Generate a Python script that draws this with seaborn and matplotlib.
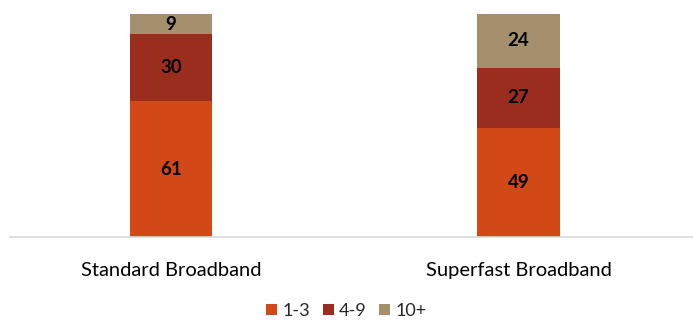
"""Stacked share of plans by band for standard vs superfast broadband."""

import matplotlib

matplotlib.use("Agg")
import matplotlib.pyplot as plt
import numpy as np
import pandas as pd
import seaborn as sns

CATEGORIES = ["Standard Broadband", "Superfast Broadband"]
SERIES = ["1-3", "4-9", "10+"]
VALUES_1_3 = [61, 49]
VALUES_4_9 = [30, 27]
VALUES_10_PLUS = [9, 24]
COLORS = ["#D34817", "#9B2D1F", "#A5906E"]


def main() -> None:
    sns.set_style("white")
    plt.rcParams["font.family"] = ["Lato", "DejaVu Sans"]

    table = pd.DataFrame(
        {"category": CATEGORIES, "1-3": VALUES_1_3, "4-9": VALUES_4_9, "10+": VALUES_10_PLUS}
    )

    fig = plt.figure(figsize=(6.93, 3.2), dpi=100)
    axis = fig.add_axes([0.0144, 0.259, 0.9856, 0.697])

    bottom = np.zeros(len(table))
    for name, color in zip(SERIES, COLORS):
        sns.barplot(
            data=table, x="category", y=name, color=color, bottom=bottom,
            width=0.236, ax=axis, label=name, saturation=1, edgecolor="none",
        )
        for index, value in enumerate(table[name]):
            axis.text(
                index, bottom[index] + value / 2, f"{value}", ha="center", va="center",
                fontsize=13.5, fontweight="bold", color="black",
            )
        bottom = bottom + table[name].to_numpy()

    axis.set_xlim(-0.463, 1.502)
    axis.set_ylim(0, 100)
    axis.set(xlabel="", ylabel="", yticks=[])
    sns.despine(ax=axis, left=True, top=True, right=True)
    axis.spines["bottom"].set_color("#D9D9D9")
    axis.spines["bottom"].set_linewidth(1.2)
    axis.tick_params(axis="x", length=0, labelsize=14.5, pad=18, colors="black")

    axis.legend(
        loc="center", bbox_to_anchor=(0.5 - 0.0144 / 2, -0.33), ncol=3, frameon=False,
        fontsize=13, handlelength=0.6, handleheight=0.6, handletextpad=0.3,
        columnspacing=0.7,
    )

    fig.savefig("out.png", dpi=100)
    plt.close(fig)


if __name__ == "__main__":
    main()
